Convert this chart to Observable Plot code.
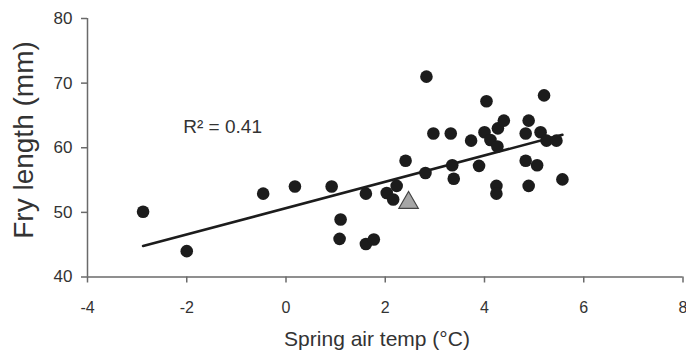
<!DOCTYPE html>
<html><head><meta charset="utf-8">
<script src="https://cdn.jsdelivr.net/npm/d3@7"></script>
<script src="https://cdn.jsdelivr.net/npm/@observablehq/plot@0.6"></script>
<style>body{margin:0;background:#fff} svg{display:block}</style>
</head><body><div id="chart"></div>
<script>
// Observed years: spring air temperature (°C) and fry length (mm)
const airTemp   = [-2.88, -2.00, -0.46, 0.18, 0.92, 1.10, 1.08, 1.61, 1.61, 1.77,
                   2.03, 2.16, 2.23, 2.41, 2.83, 2.81, 2.97, 3.32, 3.35, 3.38,
                   3.73, 3.89, 4.00, 4.04, 4.12, 4.26, 4.27, 4.39, 4.24, 4.24,
                   4.83, 4.89, 4.83, 5.06, 4.89, 5.13, 5.20, 5.25, 5.45, 5.57];
const fryLength = [50.1, 44.0, 52.9, 54.0, 54.0, 48.9, 45.9, 52.9, 45.1, 45.8,
                   53.0, 52.0, 54.1, 58.0, 71.0, 56.1, 62.2, 62.2, 57.3, 55.2,
                   61.1, 57.2, 62.4, 67.2, 61.2, 60.2, 63.0, 64.2, 54.1, 52.9,
                   62.2, 64.2, 58.0, 57.3, 54.1, 62.4, 68.1, 61.1, 61.1, 55.1];
// Highlighted year (triangle)
const markerTemp = [2.47];
const markerLength = [51.5];
// Fitted regression line end points
const fitTemp = [-2.88, 5.57];
const fitLength = [44.8, 62.0];
const xTicks = [-4, -2, 0, 2, 4, 6, 8];
const yTicks = [40, 50, 60, 70, 80];
const r2Label = "R² = 0.41";
const r2Pos = {x: -2.07, y: 62.3};
const xTitle = "Spring air temp (°C)";
const yTitle = "Fry length (mm)";

const points = airTemp.map((t, i) => ({t, len: fryLength[i]}));
const marker = markerTemp.map((t, i) => ({t, len: markerLength[i]}));
const fit = fitTemp.map((t, i) => ({t, len: fitLength[i]}));

const axisColor = "#6a6a6a";
const textColor = "#333";
const plain = d => String(d);

const chart = Plot.plot({
  width: 686,
  height: 354,
  marginLeft: 87,
  marginRight: 3.5,
  marginTop: 18,
  marginBottom: 77.5,
  style: {fontFamily: "'Liberation Sans', Arial, sans-serif", background: "#fff"},
  x: {domain: [-4, 8], axis: null},
  y: {domain: [40, 80], axis: null},
  marks: [
    Plot.ruleY([40], {stroke: axisColor, strokeWidth: 1.5}),
    Plot.ruleX([-4], {y1: 40, y2: 80, stroke: axisColor, strokeWidth: 1.5}),
    Plot.axisX(xTicks, {tickSize: 6, tickPadding: 19, fontSize: 16, tickFormat: plain, stroke: axisColor, strokeWidth: 1.5, fill: textColor, label: null}),
    Plot.axisY(yTicks, {tickSize: 6, tickPadding: 9, fontSize: 17, tickFormat: plain, stroke: axisColor, strokeWidth: 1.5, fill: textColor, label: null}),
    Plot.line(fit, {x: "t", y: "len", stroke: "#1c1c1c", strokeWidth: 2.6}),
    Plot.dot(points, {x: "t", y: "len", r: 6.3, fill: "#1c1c1c"}),
    Plot.dot(marker, {x: "t", y: "len", symbol: "triangle", r: 7.2, fill: "#a6a6a6", stroke: "#444", strokeWidth: 1.2}),
    Plot.text([r2Label], {x: () => r2Pos.x, y: () => r2Pos.y, text: d => d, textAnchor: "start", lineAnchor: "bottom", fontSize: 19, fill: textColor})
  ]
});

const svg = d3.select(chart);
svg.append("text")
  .attr("transform", "translate(33,140) rotate(-90)")
  .attr("text-anchor", "middle")
  .style("font-size", "28px")
  .style("font-family", "'Liberation Sans', Arial, sans-serif")
  .attr("fill", textColor)
  .text(yTitle);
svg.append("text")
  .attr("x", 377)
  .attr("y", 346)
  .attr("text-anchor", "middle")
  .style("font-size", "21px")
  .style("font-family", "'Liberation Sans', Arial, sans-serif")
  .attr("fill", textColor)
  .text(xTitle);

document.getElementById("chart").appendChild(chart);
</script>
</body></html>
